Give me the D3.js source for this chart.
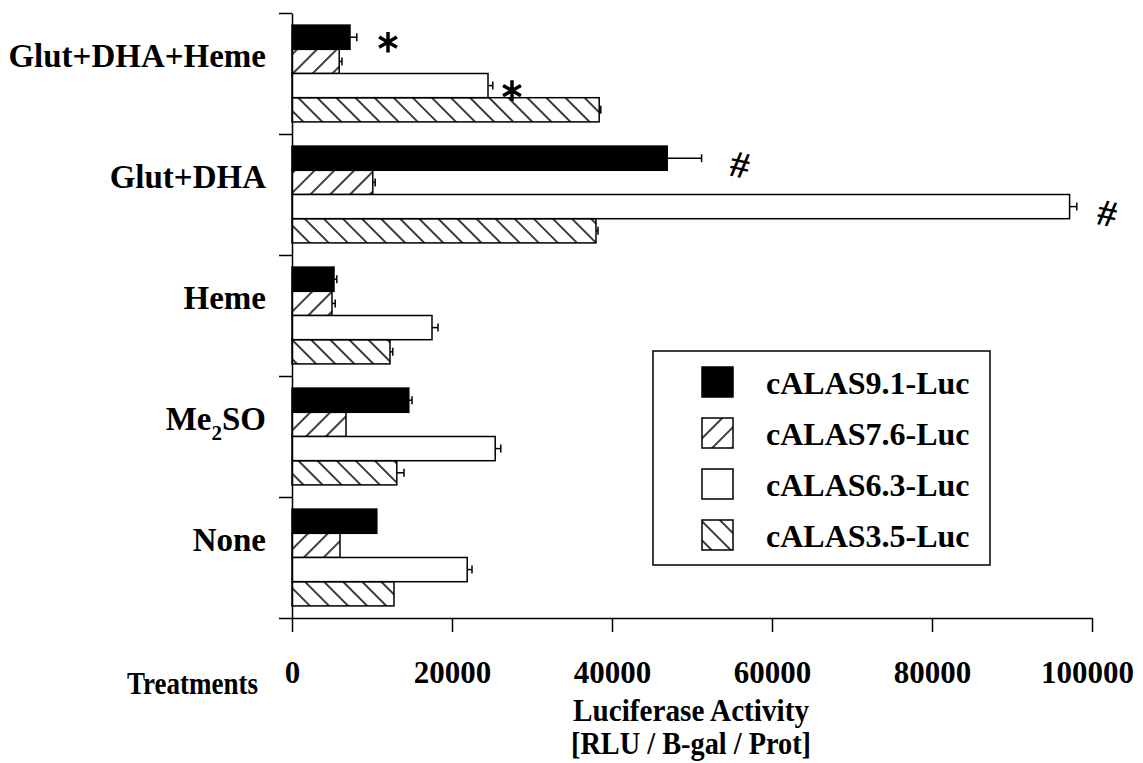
<!DOCTYPE html>
<html>
<head>
<meta charset="utf-8">
<script src="https://cdn.jsdelivr.net/npm/d3@7"></script>
<style>
body { margin: 0; background: #fff; }
text { font-family: "Liberation Serif", "Times New Roman", serif; font-weight: bold; fill: #000; }
</style>
</head>
<body>
<div class="chart"></div>
<script>
// treatments top to bottom, constructs in legend order
var treatments = ["Glut+DHA+Heme", "Glut+DHA", "Heme", "Me2SO", "None"];
var constructs = ["cALAS9.1-Luc", "cALAS7.6-Luc", "cALAS6.3-Luc", "cALAS3.5-Luc"];

// mean luciferase activity, one array per construct (same order as treatments)
var alas91 = [7250, 46900, 5250, 14600, 10600];
var alas76 = [5900, 10100, 5000, 6750, 6000];
var alas63 = [24500, 97200, 17500, 25400, 21900];
var alas35 = [38400, 38000, 12250, 13100, 12750];

// error bars (upper side only)
var err91 = [850, 4300, 350, 400, 0];
var err76 = [350, 300, 400, 0, 0];
var err63 = [600, 900, 750, 700, 600];
var err35 = [200, 250, 350, 900, 0];

var xTicks = [0, 20000, 40000, 60000, 80000, 100000];

// significance marks: treatment, construct, value where the mark sits
var marks = [
    { t: "Glut+DHA+Heme", c: "cALAS9.1-Luc", v: 12000, sym: "*" },
    { t: "Glut+DHA+Heme", c: "cALAS6.3-Luc", v: 27500, sym: "*" },
    { t: "Glut+DHA", c: "cALAS9.1-Luc", v: 56000, sym: "#" },
    { t: "Glut+DHA", c: "cALAS6.3-Luc", v: 101900, sym: "#" }
];

var means = [alas91, alas76, alas63, alas35];
var errs = [err91, err76, err63, err35];
var fills = ["solid", "fwd", "none", "back"];

var bars = [];
treatments.forEach(function(t, i) {
    constructs.forEach(function(c, j) {
        bars.push({ t: t, c: c, v: means[j][i], e: errs[j][i], f: fills[j] });
    });
});

var width = 1143, height = 763;

var svg = d3.select(".chart").append("svg")
    .attr("width", width)
    .attr("height", height);

var defs = svg.append("defs");

defs.append("pattern")
    .attr("id", "fwd")
    .attr("patternUnits", "userSpaceOnUse")
    .attr("width", 14).attr("height", 14)
    .attr("patternTransform", "rotate(45)")
    .append("line")
    .attr("x1", 7).attr("x2", 7).attr("y1", -2).attr("y2", 16)
    .attr("stroke", "#000").attr("stroke-width", 1.5);

defs.append("pattern")
    .attr("id", "back")
    .attr("patternUnits", "userSpaceOnUse")
    .attr("width", 13.5).attr("height", 13.5)
    .attr("patternTransform", "rotate(-45)")
    .append("line")
    .attr("x1", 6.75).attr("x2", 6.75).attr("y1", -2).attr("y2", 16)
    .attr("stroke", "#000").attr("stroke-width", 1.5);

function fillOf(f) {
    if (f == "solid") return "#000";
    if (f == "fwd") return "url(#fwd)";
    if (f == "back") return "url(#back)";
    return "#fff";
}

var x = d3.scaleLinear()
    .domain([0, 100000])
    .range([292, 1092]);

var y = d3.scaleBand()
    .domain(treatments)
    .range([13, 618]);

var yInner = d3.scaleBand()
    .domain(constructs)
    .range([0, y.bandwidth()])
    .paddingOuter(0.5);

var yIdx = d3.scaleLinear()
    .domain([0, treatments.length])
    .range([13, 618]);

function barMid(d) {
    return y(d.t) + yInner(d.c) + yInner.bandwidth() / 2;
}

// bars
var barG = svg.append("g").attr("class", "bars");

barG.selectAll("rect")
    .data(bars)
    .enter()
    .append("rect")
    .attr("x", x(0))
    .attr("y", function(d) { return y(d.t) + yInner(d.c); })
    .attr("width", function(d) { return x(d.v) - x(0); })
    .attr("height", yInner.bandwidth())
    .attr("fill", function(d) { return fillOf(d.f); })
    .attr("stroke", "#000")
    .attr("stroke-width", 1.5);

// error bars
var errG = svg.append("g").attr("class", "errors")
    .attr("stroke", "#000").attr("stroke-width", 1.5);

var withErr = bars.filter(function(d) { return d.e > 0; });

errG.selectAll("line.stem")
    .data(withErr)
    .enter()
    .append("line")
    .attr("class", "stem")
    .attr("x1", function(d) { return x(d.v); })
    .attr("x2", function(d) { return x(d.v + d.e); })
    .attr("y1", barMid)
    .attr("y2", barMid);

errG.selectAll("line.cap")
    .data(withErr)
    .enter()
    .append("line")
    .attr("class", "cap")
    .attr("x1", function(d) { return x(d.v + d.e); })
    .attr("x2", function(d) { return x(d.v + d.e); })
    .attr("y1", function(d) { return barMid(d) - 4; })
    .attr("y2", function(d) { return barMid(d) + 4; });

// significance marks
var markG = svg.append("g").attr("class", "marks");

markG.selectAll("path")
    .data(marks.filter(function(d) { return d.sym == "*"; }))
    .enter()
    .append("path")
    .attr("d", d3.symbol(d3.symbolAsterisk, 300))
    .attr("transform", function(d) {
        return "translate(" + x(d.v) + "," + (barMid(d) + 5) + ")";
    })
    .attr("fill", "none")
    .attr("stroke", "#000")
    .attr("stroke-width", 3.5);

markG.selectAll("text")
    .data(marks.filter(function(d) { return d.sym == "#"; }))
    .enter()
    .append("text")
    .attr("text-anchor", "middle")
    .attr("font-size", 38)
    .attr("transform", function(d) {
        return "translate(" + x(d.v) + "," + (barMid(d) + 6) + ") rotate(12)";
    })
    .attr("dy", "0.35em")
    .text(function(d) { return d.sym; });

// y axis: ticks at the category boundaries
svg.append("g")
    .attr("class", "y axis")
    .attr("transform", "translate(" + x(0) + ",0)")
    .call(d3.axisLeft(yIdx).ticks(treatments.length).tickSize(13).tickSizeOuter(0).tickFormat(""))
    .call(function(g) {
        g.selectAll("line, path").attr("stroke", "#000").attr("stroke-width", 1.5);
    });

var labG = svg.append("g").attr("class", "y labels");

labG.selectAll("text")
    .data(treatments)
    .enter()
    .append("text")
    .attr("x", 266)
    .attr("y", function(d) { return y(d) + 54; })
    .attr("text-anchor", "end")
    .attr("font-size", 33)
    .each(function(d) {
        var t = d3.select(this);
        if (d == "Me2SO") {
            t.append("tspan").text("Me");
            t.append("tspan").attr("font-size", 21).attr("dy", 10).text("2");
            t.append("tspan").attr("dy", -10).text("SO");
        } else {
            t.text(d);
        }
    });

// x axis, labels set in a narrow, tall face like the original
svg.append("g")
    .attr("class", "x axis")
    .attr("transform", "translate(0," + 618 + ")")
    .call(d3.axisBottom(x).tickValues(xTicks).tickSize(14).tickSizeOuter(0).tickFormat(d3.format("d")))
    .call(function(g) {
        g.selectAll("line, path").attr("stroke", "#000").attr("stroke-width", 1.5);
        g.selectAll("text")
            .attr("font-family", "Liberation Serif, serif")
            .attr("font-size", 31)
            .attr("y", 65)
            .attr("dy", 0)
            .attr("dx", function(d, i) { return i == xTicks.length - 1 ? -5 : 0; })
            .attr("textLength", function(d) { return String(d).length * 15.5; })
            .attr("lengthAdjust", "spacingAndGlyphs");
    });

svg.append("text")
    .attr("x", 127)
    .attr("y", 694)
    .attr("font-size", 31)
    .attr("textLength", 131)
    .attr("lengthAdjust", "spacingAndGlyphs")
    .text("Treatments");

svg.append("text")
    .attr("x", 691)
    .attr("y", 721)
    .attr("text-anchor", "middle")
    .attr("font-size", 31)
    .attr("textLength", 236)
    .attr("lengthAdjust", "spacingAndGlyphs")
    .text("Luciferase Activity");

svg.append("text")
    .attr("x", 691)
    .attr("y", 754)
    .attr("text-anchor", "middle")
    .attr("font-size", 31)
    .attr("textLength", 240)
    .attr("lengthAdjust", "spacingAndGlyphs")
    .text("[RLU / B-gal / Prot]");

// legend
var legend = svg.append("g")
    .attr("class", "legend")
    .attr("transform", "translate(653,351)");

legend.append("rect")
    .attr("width", 337)
    .attr("height", 214)
    .attr("fill", "#fff")
    .attr("stroke", "#000")
    .attr("stroke-width", 1.5);

var item = legend.selectAll("g.item")
    .data(constructs)
    .enter()
    .append("g")
    .attr("class", "item")
    .attr("transform", function(d, i) { return "translate(0," + (16 + i * 51) + ")"; });

item.append("rect")
    .attr("x", 49)
    .attr("width", 31)
    .attr("height", 30)
    .attr("fill", function(d, i) { return fillOf(fills[i]); })
    .attr("stroke", "#000")
    .attr("stroke-width", 1.5);

item.append("text")
    .attr("x", 113)
    .attr("y", 27)
    .attr("font-size", 32)
    .text(function(d) { return d; });
</script>
</body>
</html>
